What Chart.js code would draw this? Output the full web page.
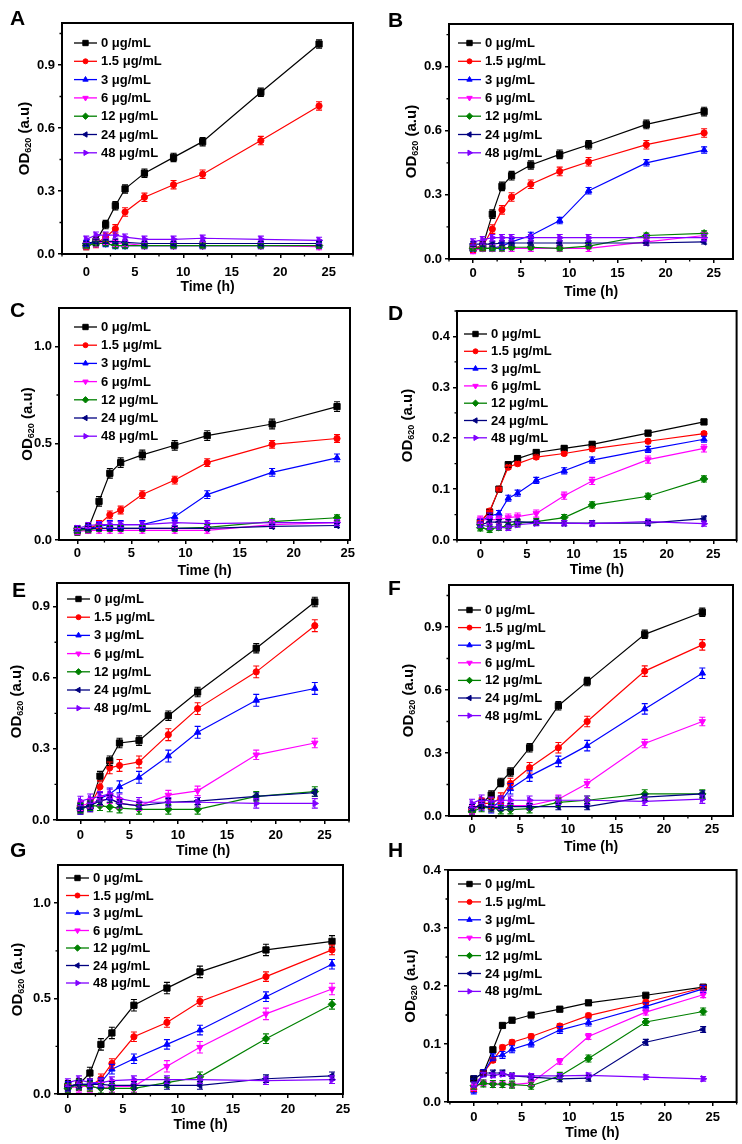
<!DOCTYPE html>
<html><head><meta charset="utf-8">
<script src="https://cdn.jsdelivr.net/npm/chart.js@4.4.0/dist/chart.umd.min.js"></script>
<style>
html,body{margin:0;padding:0;background:#fff;}
body{width:742px;height:1144px;position:relative;overflow:hidden;font-family:"Liberation Sans",Arial,sans-serif;}
canvas{position:absolute;}
.lbl{position:absolute;font-weight:bold;font-size:21px;line-height:21px;color:#000;}
</style></head><body>
<script>
// ---------------- DATA ----------------
const times = [0, 1, 2, 3, 4, 6, 9, 12, 18, 24];
const seriesLabels = ['0 μg/mL', '1.5 μg/mL', '3 μg/mL', '6 μg/mL', '12 μg/mL', '24 μg/mL', '48 μg/mL'];
const panelLetters = ['A', 'B', 'C', 'D', 'E', 'F', 'G', 'H'];
const xTickValues = [0, 5, 10, 15, 20, 25];
const yTicks03 = [0, 0.3, 0.6, 0.9];
const yTicks05 = [0, 0.5, 1.0];
const yTicks01 = [0, 0.1, 0.2, 0.3, 0.4];
const xTitle = 'Time (h)';
const yTitleMain = 'OD';
const yTitleSub = '620';
const yTitleRest = ' (a.u)';

const A_0   = [0.04, 0.06, 0.14, 0.23, 0.31, 0.385, 0.46, 0.535, 0.77, 1.0];
const A_1_5 = [0.04, 0.05, 0.08, 0.12, 0.2, 0.27, 0.33, 0.38, 0.54, 0.705];
const A_3   = [0.05, 0.05, 0.05, 0.04, 0.04, 0.04, 0.04, 0.04, 0.04, 0.04];
const A_6   = [0.04, 0.05, 0.06, 0.05, 0.05, 0.04, 0.04, 0.04, 0.04, 0.035];
const A_12  = [0.04, 0.05, 0.05, 0.04, 0.04, 0.04, 0.04, 0.04, 0.04, 0.04];
const A_24  = [0.05, 0.06, 0.06, 0.06, 0.055, 0.05, 0.05, 0.05, 0.05, 0.05];
const A_48  = [0.07, 0.09, 0.09, 0.09, 0.08, 0.07, 0.07, 0.075, 0.07, 0.065];
const errA  = [0.02, 0.02, 0.015, 0.015, 0.012, 0.01, 0.015];

const B_0   = [0.05, 0.06, 0.21, 0.34, 0.39, 0.44, 0.49, 0.535, 0.63, 0.69];
const B_1_5 = [0.05, 0.06, 0.14, 0.23, 0.29, 0.35, 0.41, 0.455, 0.535, 0.59];
const B_3   = [0.05, 0.05, 0.05, 0.06, 0.08, 0.11, 0.18, 0.32, 0.45, 0.51];
const B_6   = [0.04, 0.05, 0.05, 0.05, 0.05, 0.05, 0.05, 0.05, 0.08, 0.11];
const B_12  = [0.05, 0.05, 0.05, 0.05, 0.055, 0.055, 0.05, 0.06, 0.11, 0.12];
const B_24  = [0.07, 0.07, 0.07, 0.075, 0.075, 0.075, 0.075, 0.075, 0.075, 0.08];
const B_48  = [0.08, 0.09, 0.1, 0.1, 0.1, 0.1, 0.1, 0.1, 0.1, 0.1];
const errB  = [0.02, 0.02, 0.015, 0.015, 0.012, 0.01, 0.015];

const C_0   = [0.05, 0.06, 0.2, 0.345, 0.4, 0.44, 0.49, 0.54, 0.6, 0.69];
const C_1_5 = [0.05, 0.06, 0.08, 0.13, 0.155, 0.235, 0.31, 0.4, 0.495, 0.525];
const C_3   = [0.05, 0.06, 0.07, 0.08, 0.08, 0.08, 0.12, 0.235, 0.35, 0.425];
const C_6   = [0.045, 0.05, 0.05, 0.05, 0.05, 0.05, 0.05, 0.05, 0.08, 0.09];
const C_12  = [0.05, 0.055, 0.06, 0.06, 0.06, 0.06, 0.06, 0.065, 0.095, 0.115];
const C_24  = [0.06, 0.06, 0.06, 0.06, 0.06, 0.06, 0.06, 0.06, 0.07, 0.075];
const C_48  = [0.06, 0.075, 0.08, 0.08, 0.08, 0.08, 0.09, 0.085, 0.09, 0.09];
const errC  = [0.025, 0.02, 0.02, 0.015, 0.015, 0.01, 0.015];

const D_0   = [0.035, 0.055, 0.1, 0.148, 0.16, 0.172, 0.18, 0.188, 0.21, 0.232];
const D_1_5 = [0.035, 0.057, 0.1, 0.143, 0.15, 0.163, 0.17, 0.179, 0.194, 0.209];
const D_3   = [0.035, 0.047, 0.052, 0.082, 0.092, 0.117, 0.136, 0.157, 0.178, 0.198];
const D_6   = [0.04, 0.04, 0.04, 0.044, 0.046, 0.052, 0.087, 0.116, 0.158, 0.18];
const D_12  = [0.024, 0.021, 0.025, 0.028, 0.033, 0.036, 0.044, 0.069, 0.086, 0.12];
const D_24  = [0.03, 0.035, 0.035, 0.035, 0.036, 0.034, 0.033, 0.033, 0.033, 0.042];
const D_48  = [0.03, 0.026, 0.025, 0.024, 0.03, 0.033, 0.033, 0.032, 0.036, 0.032];
const errD  = [0.005, 0.004, 0.006, 0.007, 0.006, 0.005, 0.005];

const E_0   = [0.05, 0.06, 0.185, 0.25, 0.325, 0.335, 0.44, 0.54, 0.725, 0.92];
const E_1_5 = [0.05, 0.06, 0.14, 0.22, 0.23, 0.245, 0.36, 0.47, 0.625, 0.82];
const E_3   = [0.05, 0.06, 0.09, 0.11, 0.14, 0.18, 0.27, 0.37, 0.505, 0.555];
const E_6   = [0.06, 0.07, 0.08, 0.09, 0.07, 0.06, 0.105, 0.123, 0.275, 0.325];
const E_12  = [0.05, 0.06, 0.06, 0.055, 0.05, 0.045, 0.045, 0.045, 0.1, 0.12];
const E_24  = [0.05, 0.06, 0.08, 0.09, 0.07, 0.06, 0.075, 0.08, 0.1, 0.115];
const E_48  = [0.08, 0.09, 0.1, 0.11, 0.09, 0.075, 0.075, 0.075, 0.07, 0.07];
const errE  = [0.02, 0.025, 0.025, 0.02, 0.02, 0.015, 0.02];

const F_0   = [0.03, 0.06, 0.1, 0.16, 0.21, 0.325, 0.525, 0.64, 0.865, 0.97];
const F_1_5 = [0.03, 0.06, 0.06, 0.085, 0.155, 0.23, 0.325, 0.45, 0.69, 0.815];
const F_3   = [0.03, 0.05, 0.04, 0.07, 0.13, 0.19, 0.26, 0.335, 0.51, 0.68];
const F_6   = [0.03, 0.05, 0.04, 0.05, 0.05, 0.05, 0.08, 0.155, 0.345, 0.45];
const F_12  = [0.02, 0.04, 0.04, 0.03, 0.03, 0.035, 0.065, 0.075, 0.105, 0.105];
const F_24  = [0.04, 0.05, 0.04, 0.04, 0.045, 0.045, 0.045, 0.045, 0.09, 0.105];
const F_48  = [0.06, 0.08, 0.07, 0.075, 0.075, 0.075, 0.075, 0.075, 0.07, 0.08];
const errF  = [0.02, 0.025, 0.025, 0.02, 0.02, 0.015, 0.02];

const G_0   = [0.04, 0.05, 0.11, 0.26, 0.32, 0.465, 0.555, 0.64, 0.755, 0.8];
const G_1_5 = [0.04, 0.05, 0.04, 0.08, 0.16, 0.3, 0.375, 0.485, 0.615, 0.755];
const G_3   = [0.04, 0.05, 0.05, 0.06, 0.13, 0.185, 0.26, 0.335, 0.51, 0.68];
const G_6   = [0.03, 0.04, 0.04, 0.03, 0.04, 0.04, 0.145, 0.245, 0.42, 0.55];
const G_12  = [0.03, 0.05, 0.04, 0.03, 0.03, 0.03, 0.06, 0.09, 0.29, 0.47];
const G_24  = [0.04, 0.05, 0.05, 0.05, 0.045, 0.045, 0.045, 0.045, 0.08, 0.095];
const G_48  = [0.06, 0.075, 0.06, 0.06, 0.07, 0.075, 0.075, 0.075, 0.07, 0.075];
const errG  = [0.03, 0.025, 0.025, 0.03, 0.025, 0.02, 0.02];

const H_0   = [0.04, 0.05, 0.09, 0.132, 0.141, 0.15, 0.16, 0.171, 0.184, 0.198];
const H_1_5 = [0.022, 0.05, 0.072, 0.094, 0.103, 0.113, 0.131, 0.149, 0.172, 0.197];
const H_3   = [0.02, 0.05, 0.077, 0.081, 0.091, 0.101, 0.124, 0.137, 0.165, 0.195];
const H_6   = [0.025, 0.033, 0.03, 0.03, 0.03, 0.033, 0.07, 0.113, 0.155, 0.185];
const H_12  = [0.028, 0.032, 0.031, 0.031, 0.03, 0.028, 0.045, 0.075, 0.138, 0.156];
const H_24  = [0.04, 0.05, 0.05, 0.05, 0.045, 0.043, 0.04, 0.041, 0.103, 0.125];
const H_48  = [0.03, 0.047, 0.046, 0.048, 0.045, 0.045, 0.045, 0.046, 0.043, 0.04];
const errH  = [0.003, 0.004, 0.006, 0.005, 0.006, 0.005, 0.004];

const panelSeries = {
  A: [A_0, A_1_5, A_3, A_6, A_12, A_24, A_48],
  B: [B_0, B_1_5, B_3, B_6, B_12, B_24, B_48],
  C: [C_0, C_1_5, C_3, C_6, C_12, C_24, C_48],
  D: [D_0, D_1_5, D_3, D_6, D_12, D_24, D_48],
  E: [E_0, E_1_5, E_3, E_6, E_12, E_24, E_48],
  F: [F_0, F_1_5, F_3, F_6, F_12, F_24, F_48],
  G: [G_0, G_1_5, G_3, G_6, G_12, G_24, G_48],
  H: [H_0, H_1_5, H_3, H_6, H_12, H_24, H_48]
};
const panelErrors = { A: errA, B: errB, C: errC, D: errD, E: errE, F: errF, G: errG, H: errH };
const panelYTicks = { A: yTicks03, B: yTicks03, C: yTicks05, D: yTicks01, E: yTicks03, F: yTicks03, G: yTicks05, H: yTicks01 };

// ---------------- STYLE / LAYOUT ----------------
const colors = ['#000000', '#ff0000', '#0000ff', '#ff00ff', '#008000', '#000080', '#8000ff'];
const pointStyles = ['rect', 'circle', 'triangle', 'triangle', 'rectRot', 'triangle', 'triangle'];
const pointRotations = [0, 0, 0, 180, 0, 270, 90];
const pointRadii = [4.4, 3.1, 3.7, 3.7, 3.8, 3.7, 3.7];

const layout = {
  A: { L: 62,  T: 23,  R: 353, B: 254,  xr: [-2.5, 27.5], ymax: 1.1,  ym: 0.15, xPad: 6.5, xTy: 33, yTx: -37, lg: [12, 20, 18.3], let: [10, 10] },
  B: { L: 449, T: 24,  R: 733, B: 259,  xr: [-2.5, 27],   ymax: 1.1,  ym: 0.15, xPad: 2.5, xTy: 33, yTx: -37, lg: [9, 19, 18.3],  let: [388, 12] },
  C: { L: 59,  T: 308, R: 350, B: 540,  xr: [-1.7, 25.2], ymax: 1.2,  ym: 0.25, xPad: 1.5, xTy: 31, yTx: -31, lg: [15, 19, 18.2], let: [10, 302] },
  D: { L: 457, T: 311, R: 738, B: 540,  xr: [-2.5, 27.5], ymax: 0.45, ym: 0.05, xPad: 2.5, xTy: 30, yTx: -49, lg: [7, 23, 17.3],  let: [388, 305] },
  E: { L: 57,  T: 583, R: 349, B: 820,  xr: [-2.4, 27.5], ymax: 1.0,  ym: 0.15, xPad: 3.5, xTy: 31, yTx: -40, lg: [10, 16, 18.2], let: [12, 582] },
  F: { L: 449, T: 585, R: 733, B: 816,  xr: [-2.4, 27.2], ymax: 1.1,  ym: 0.15, xPad: 1.5, xTy: 31, yTx: -40, lg: [9, 25, 17.6],  let: [388, 580] },
  G: { L: 58,  T: 865, R: 343, B: 1094, xr: [-0.9, 25],   ymax: 1.2,  ym: 0.25, xPad: 3.5, xTy: 31, yTx: -40, lg: [8, 13, 17.5],  let: [10, 842] },
  H: { L: 448, T: 870, R: 737, B: 1102, xr: [-2.7, 27.5], ymax: 0.4,  ym: 0.05, xPad: 3.5, xTy: 31, yTx: -37, lg: [10, 14, 17.9], let: [388, 842] }
};

const FONT = "'Liberation Sans', Arial, sans-serif";
Chart.defaults.font.family = FONT;
Chart.defaults.color = '#000';

const errorBarPlugin = {
  id: 'errorBars',
  afterDatasetsDraw(chart) {
    const errs = chart.options.plugins.errorBars.errors;
    const ctx = chart.ctx, xs = chart.scales.x, ys = chart.scales.y;
    ctx.save();
    chart.data.datasets.forEach((ds, i) => {
      const e = errs[i];
      ctx.strokeStyle = ds.borderColor;
      ctx.lineWidth = 1.1;
      ds.data.forEach(p => {
        const x = xs.getPixelForValue(p.x);
        const y1 = ys.getPixelForValue(p.y + e), y2 = ys.getPixelForValue(p.y - e);
        ctx.beginPath();
        ctx.moveTo(x, y1); ctx.lineTo(x, y2);
        ctx.moveTo(x - 3, y1); ctx.lineTo(x + 3, y1);
        ctx.moveTo(x - 3, y2); ctx.lineTo(x + 3, y2);
        ctx.stroke();
      });
    });
    ctx.restore();
  }
};

const decorPlugin = {
  id: 'decor',
  afterDraw(chart) {
    const o = chart.options.plugins.decor;
    const ctx = chart.ctx, a = chart.chartArea, xs = chart.scales.x, ys = chart.scales.y;
    ctx.save();
    // frame
    ctx.strokeStyle = '#000'; ctx.lineWidth = 2;
    ctx.strokeRect(a.left, a.top, a.right - a.left, a.bottom - a.top);
    // minor ticks
    ctx.lineWidth = 1.3;
    ctx.beginPath();
    for (let v = -5; v <= 30; v += 5) {
      const m = v + 2.5;
      if (m >= xs.min && m <= xs.max) {
        const px = xs.getPixelForValue(m);
        ctx.moveTo(px, a.bottom); ctx.lineTo(px, a.bottom + 2.5);
      }
    }
    for (let k = 1; k * o.ym <= ys.max + 1e-9; k += 2) {
      const py = ys.getPixelForValue(k * o.ym);
      ctx.moveTo(a.left, py); ctx.lineTo(a.left - 2.5, py);
    }
    ctx.stroke();
    // x title
    ctx.fillStyle = '#000';
    ctx.font = 'bold 14px ' + FONT;
    ctx.textAlign = 'center'; ctx.textBaseline = 'middle';
    ctx.fillText(xTitle, (a.left + a.right) / 2, a.bottom + o.xTy);
    // y title with subscript
    ctx.save();
    ctx.translate(a.left + o.yTx, (a.top + a.bottom) / 2);
    ctx.rotate(-Math.PI / 2);
    ctx.textAlign = 'left';
    const fMain = 'bold 15px ' + FONT, fSub = 'bold 9px ' + FONT;
    ctx.font = fMain; const w1 = ctx.measureText(yTitleMain).width, w3 = ctx.measureText(yTitleRest).width;
    ctx.font = fSub; const w2 = ctx.measureText(yTitleSub).width;
    let x = -(w1 + w2 + w3) / 2;
    ctx.font = fMain; ctx.fillText(yTitleMain, x, 0); x += w1;
    ctx.font = fSub; ctx.fillText(yTitleSub, x, 4); x += w2;
    ctx.font = fMain; ctx.fillText(yTitleRest, x, 0);
    ctx.restore();
    // legend
    ctx.font = 'bold 13px ' + FONT;
    ctx.textAlign = 'left'; ctx.textBaseline = 'middle';
    seriesLabels.forEach((lab, i) => {
      const y = a.top + o.lg[1] + i * o.lg[2];
      const x1 = a.left + o.lg[0];
      ctx.strokeStyle = colors[i]; ctx.fillStyle = colors[i]; ctx.lineWidth = 1.3;
      ctx.beginPath(); ctx.moveTo(x1, y); ctx.lineTo(x1 + 23, y); ctx.stroke();
      ctx.lineWidth = 1;
      Chart.helpers.drawPoint(ctx, { pointStyle: pointStyles[i], rotation: pointRotations[i], radius: pointRadii[i] - 0.6, borderWidth: 1 }, x1 + 11.5, y);
      ctx.fillStyle = '#000';
      ctx.fillText(lab, x1 + 27, y + 0.5);
    });
    ctx.restore();
  }
};

panelLetters.forEach((key, idx) => {
  const o = layout[key];
  const col = idx % 2;
  const x0 = col * 371, w = 371;
  const y0 = Math.max(0, o.T - 25);
  const h = Math.min(1144, o.B + 45) - y0;
  const cv = document.createElement('canvas');
  cv.width = w; cv.height = h;
  cv.style.left = x0 + 'px'; cv.style.top = y0 + 'px';
  cv.style.width = w + 'px'; cv.style.height = h + 'px';
  document.body.appendChild(cv);

  const letter = document.createElement('div');
  letter.className = 'lbl';
  letter.textContent = key;
  letter.style.left = o.let[0] + 'px';
  letter.style.top = (o.let[1] - 3) + 'px';
  document.body.appendChild(letter);

  const series = panelSeries[key];
  const datasets = series.map((vals, i) => ({
    label: seriesLabels[i],
    data: times.map((t, j) => ({ x: t, y: vals[j] })),
    borderColor: colors[i],
    backgroundColor: colors[i],
    borderWidth: 1.2,
    pointStyle: pointStyles[i],
    pointRotation: pointRotations[i],
    pointRadius: pointRadii[i],
    pointBorderWidth: 1,
    tension: 0,
    order: 6 - i
  }));
  const yTicks = panelYTicks[key];
  const tickFont = { size: 13, weight: 'bold', family: FONT };

  new Chart(cv, {
    type: 'line',
    data: { datasets },
    plugins: [errorBarPlugin, decorPlugin],
    options: {
      responsive: false, animation: false, devicePixelRatio: 1,
      events: [],
      layout: { padding: { left: 0, top: o.T - y0, right: x0 + w - o.R, bottom: 0 } },
      plugins: {
        legend: { display: false }, tooltip: { enabled: false },
        errorBars: { errors: panelErrors[key] },
        decor: o
      },
      scales: {
        x: {
          type: 'linear', min: o.xr[0], max: o.xr[1],
          afterBuildTicks: s => { s.ticks = xTickValues.map(v => ({ value: v })); },
          afterFit: s => { s.height = y0 + h - o.B; },
          grid: { display: true, drawOnChartArea: false, drawTicks: true, tickLength: 4, color: '#000', lineWidth: 1.5 },
          border: { display: false },
          ticks: { font: tickFont, color: '#000', padding: o.xPad, maxRotation: 0, autoSkip: false, callback: v => String(v) }
        },
        y: {
          type: 'linear', min: 0, max: o.ymax,
          afterBuildTicks: s => { s.ticks = yTicks.map(v => ({ value: v })); },
          afterFit: s => { s.width = o.L - x0; },
          grid: { display: true, drawOnChartArea: false, drawTicks: true, tickLength: 4, color: '#000', lineWidth: 1.5 },
          border: { display: false },
          ticks: { font: tickFont, color: '#000', padding: 3, autoSkip: false, callback: v => Number(v).toFixed(1) }
        }
      }
    }
  });
});
</script>
</body></html>
